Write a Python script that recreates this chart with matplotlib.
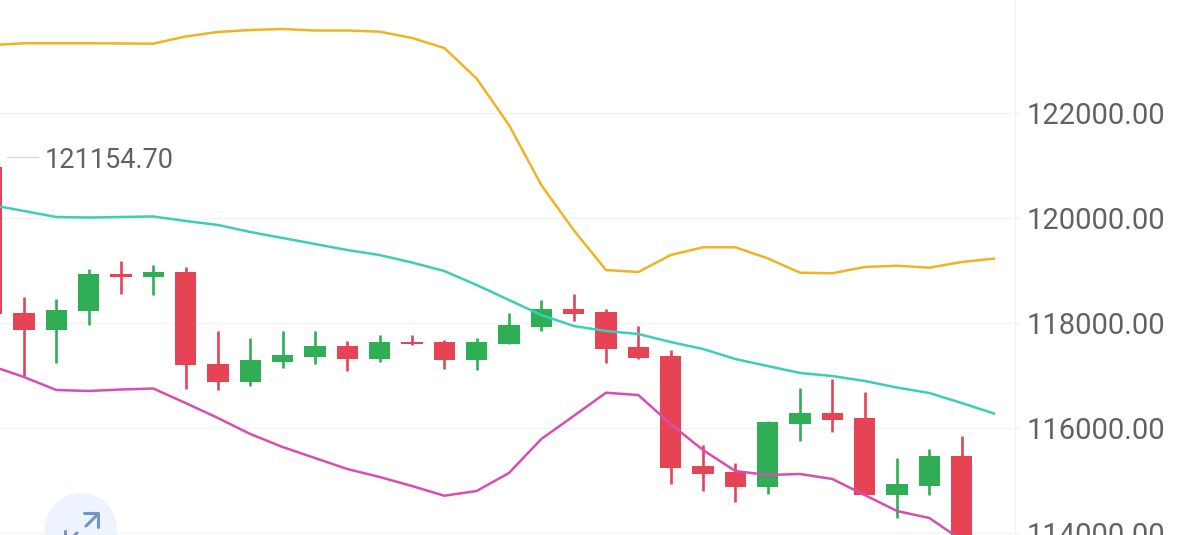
import matplotlib
matplotlib.use('Agg')
import matplotlib.pyplot as plt
from matplotlib.patches import Circle
from matplotlib.transforms import Affine2D

plt.rcParams['font.family'] = ['Roboto', 'DejaVu Sans']

# candles, first one is cut by the left edge, last one by the bottom
opens = [120966, 118196, 117867, 118223, 118939, 118882, 118966, 117225, 116876, 117257, 117358,
         117562, 117320, 117638, 117638, 117301, 117606, 117930, 118267, 118204, 117537, 117366,
         115270, 115162, 114870, 116070, 116280, 116190, 114724, 114901, 115467]
highs = [121155, 118489, 118463, 119034, 119181, 119110, 119067, 117853, 117708, 117848, 117848,
         117657, 117777, 117766, 117670, 117714, 118190, 118432, 118552, 118267, 117943, 117491,
         115676, 115333, 116133, 116762, 116933, 116686, 115423, 115600, 115842]
lows = [118100, 116996, 117244, 117967, 118558, 118539, 116748, 116729, 116806, 117149, 117219,
        117086, 117263, 117587, 117124, 117110, 117606, 117848, 118038, 117238, 117314, 114939,
        114800, 114590, 114748, 115758, 115918, 114724, 114291, 114724, 113300]
closes = [118171, 117867, 118248, 118933, 118876, 118971, 117194, 116876, 117289, 117396, 117562,
          117320, 117638, 117600, 117301, 117638, 117962, 118267, 118166, 117505, 117328, 115238,
          115124, 114870, 116108, 116280, 116152, 114724, 114933, 115467, 113500]

# bollinger bands, one point more than the candles
upper = [123295, 123328, 123328, 123328, 123324, 123320, 123457, 123543, 123581, 123600, 123571,
         123571, 123549, 123429, 123238, 122657, 121771, 120629, 119771, 119009, 118971, 119295,
         119442, 119442, 119232, 118958, 118947, 119067, 119091, 119053, 119162, 119225]
middle = [120248, 120133, 120019, 120009, 120019, 120029, 119943, 119867, 119733, 119619, 119505,
          119390, 119295, 119152, 118990, 118724, 118438, 118152, 117943, 117848, 117790, 117638,
          117505, 117314, 117181, 117048, 116990, 116895, 116771, 116667, 116476, 116276]
lower = [117181, 116971, 116724, 116705, 116733, 116752, 116476, 116190, 115886, 115638, 115428,
         115219, 115067, 114895, 114710, 114800, 115143, 115790, 116229, 116672, 116628, 116076,
         115581, 115181, 115105, 115124, 115029, 114724, 114419, 114286, 113866, 113300]

y_ticks = [114000, 116000, 118000, 120000, 122000]
max_label = '121154.70'
max_value = 121154.70

RED = '#e64454'
GREEN = '#2fae55'
TEXT = '#5f6368'
GRID = '#f2f3f5'

fig = plt.figure(figsize=(11.79, 5.35), dpi=100)
ax = fig.add_axes([0, 0, 1015 / 1179, 1])

# candles
idx = list(range(len(opens)))
colors = [GREEN if c > o else RED for o, c in zip(opens, closes)]
ax.vlines(idx, lows, highs, colors=colors, linewidth=1.9, zorder=3)
ax.bar(idx, [abs(c - o) for o, c in zip(opens, closes)], bottom=[min(o, c) for o, c in zip(opens, closes)],
       width=0.66, color=colors, linewidth=0, zorder=3)

# bands
line_idx = list(range(len(upper)))
ax.plot(line_idx, upper, color='#f0b323', linewidth=1.8, zorder=4)
ax.plot(line_idx, middle, color='#3ccfb4', linewidth=1.8, zorder=4)
ax.plot(line_idx, lower, color='#d64fb0', linewidth=1.8, zorder=4)

# highest price marker
ax.plot([0.48, 1.44], [max_value, max_value], color='#d5d7da', linewidth=0.9, zorder=2)
ax.text(1.65, max_value, max_label, color=TEXT, fontsize=19.5, va='center_baseline', ha='left')

ax.set_xlim(0.26, 31.65)
ax.set_ylim(113962, 124152)
ax.set_xticks([])
ax.set_yticks(y_ticks)
ax.set_yticklabels([f'{v:.2f}' for v in y_ticks])
ax.yaxis.tick_right()
ax.tick_params(axis='y', length=3.6, width=1, color=GRID, pad=5, labelsize=21, labelcolor=TEXT)
ax.grid(axis='y', color=GRID, linewidth=1)
ax.set_axisbelow(True)
for side in ['top', 'left', 'bottom']:
    ax.spines[side].set_visible(False)
ax.spines['right'].set_color(GRID)
ax.spines['right'].set_linewidth(1)

# round button in the corner, in image pixels
px = Affine2D().scale(1, -1).translate(0, 535)
fig.add_artist(Circle((81, 529), 36, transform=px, facecolor='#edf4fd', edgecolor='none', zorder=5))
icon = {'color': '#6f96cc', 'linewidth': 2.2, 'transform': px, 'zorder': 6, 'solid_capstyle': 'round'}
fig.add_artist(plt.Line2D([84, 98, 98], [513, 513, 527], **icon))
fig.add_artist(plt.Line2D([86, 98], [526, 514], **icon))
fig.add_artist(plt.Line2D([65, 65, 78], [531, 545, 545], **icon))
fig.add_artist(plt.Line2D([66, 77], [544, 533], **icon))

fig.savefig('out.png', dpi=100)
